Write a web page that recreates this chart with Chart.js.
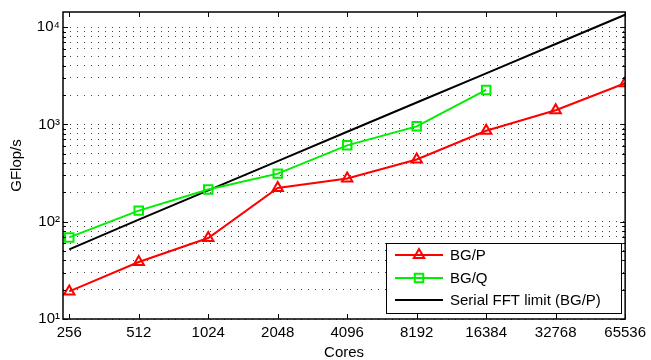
<!DOCTYPE html>
<html>
<head>
<meta charset="utf-8">
<script src="https://cdn.jsdelivr.net/npm/chart.js@4"></script>
<style>
  html, body { margin: 0; padding: 0; background: #fff; }
  #wrap { width: 651px; height: 360px; }
</style>
</head>
<body>
<div id="wrap"><canvas id="chart" width="651" height="360"></canvas></div>
<script>
// --- data ---
const cores = [256, 512, 1024, 2048, 4096, 8192, 16384, 32768, 65536];
const bgp = [19.2, 38.5, 68, 222, 278, 436, 860, 1400, 2650];
const bgq = [69, 130, 214, 312, 609, 955, 2260];
const serial = [52, 105, 210, 420, 840, 1680, 3350, 6700, 13400];
const yMajor = [10, 100, 1000, 10000];
const yLabels = ['10\u00B9', '10\u00B2', '10\u00B3', '10\u2074'];

const FONT = 'Liberation Sans, Arial, Helvetica, sans-serif';

function pts(vals) {
  return vals.map((v, i) => ({ x: cores[i], y: v }));
}

// all y ticks: 1..9 x each decade (for the dotted minor grid)
const yTicks = [];
for (let d = 10; d <= 10000; d *= 10) {
  for (let k = 1; k <= 9; k++) {
    if (d * k <= 14300) yTicks.push(d * k);
  }
}

// frame, inward tick marks and legend, drawn MATLAB style
const framePlugin = {
  id: 'frame',
  afterDraw(chart) {
    const { ctx, chartArea: a, scales: { x, y } } = chart;
    ctx.save();
    ctx.strokeStyle = '#000';
    ctx.lineWidth = 1;
    ctx.beginPath();
    cores.forEach(c => {
      const px = Math.round(x.getPixelForValue(c)) + 0.5;
      ctx.moveTo(px, a.bottom); ctx.lineTo(px, a.bottom - 5);
      ctx.moveTo(px, a.top); ctx.lineTo(px, a.top + 5);
    });
    yTicks.forEach(v => {
      const py = Math.round(y.getPixelForValue(v)) + 0.5;
      const len = yMajor.includes(v) ? 5 : 3;
      ctx.moveTo(a.left, py); ctx.lineTo(a.left + len, py);
      ctx.moveTo(a.right, py); ctx.lineTo(a.right - len, py);
    });
    ctx.stroke();
    ctx.lineWidth = 1.5;
    ctx.strokeRect(a.left, a.top, a.right - a.left, a.bottom - a.top);

    // legend
    const lx = 386, ly = 243, lw = 235, lh = 70;
    ctx.fillStyle = '#fff';
    ctx.fillRect(lx, ly, lw, lh);
    ctx.lineWidth = 1;
    ctx.strokeStyle = '#000';
    ctx.strokeRect(lx + 0.5, ly + 0.5, lw, lh);
    const rows = [255, 278, 300];
    chart.data.datasets.forEach((ds, i) => {
      const yy = rows[i];
      ctx.strokeStyle = ds.borderColor;
      ctx.lineWidth = 2;
      ctx.beginPath();
      ctx.moveTo(395, yy); ctx.lineTo(443, yy);
      ctx.stroke();
      if (ds.pointStyle && ds.pointRadius > 0) {
        ctx.fillStyle = 'rgba(0,0,0,0)';
        Chart.helpers.drawPoint(ctx, {
          pointStyle: ds.pointStyle, radius: ds.pointRadius, borderWidth: 2
        }, 419, yy);
      }
      ctx.fillStyle = '#000';
      ctx.font = '15px ' + FONT;
      ctx.textBaseline = 'middle';
      ctx.textAlign = 'left';
      ctx.fillText(ds.label, 450, yy + 1);
    });
    ctx.restore();
  }
};

new Chart(document.getElementById('chart'), {
  type: 'line',
  data: {
    datasets: [
      {
        label: 'BG/P', data: pts(bgp),
        borderColor: '#ff0000', backgroundColor: 'transparent',
        borderWidth: 2, pointStyle: 'triangle', pointRadius: 6,
        pointBorderWidth: 2, pointBackgroundColor: 'transparent'
      },
      {
        label: 'BG/Q', data: pts(bgq),
        borderColor: '#00ee00', backgroundColor: 'transparent',
        borderWidth: 2, pointStyle: 'rect', pointRadius: 6,
        pointBorderWidth: 2, pointBackgroundColor: 'transparent'
      },
      {
        label: 'Serial FFT limit (BG/P)', data: pts(serial),
        borderColor: '#000000', backgroundColor: 'transparent',
        borderWidth: 2, pointRadius: 0, pointStyle: false
      }
    ]
  },
  options: {
    responsive: false,
    animation: false,
    layout: { padding: { top: 8, right: 24, left: 0, bottom: 0 } },
    plugins: { legend: { display: false }, tooltip: { enabled: false } },
    scales: {
      x: {
        type: 'logarithmic',
        min: 240.5, max: 65536,
        afterBuildTicks: s => { s.ticks = cores.map(v => ({ value: v })); },
        afterFit: s => { s.height = 41; },
        grid: { display: false, drawTicks: false },
        border: { display: false },
        ticks: {
          autoSkip: false, maxRotation: 0, padding: 5,
          color: '#000', font: { family: FONT, size: 15 },
          callback: v => String(v)
        },
        title: {
          display: true, text: 'Cores', color: '#000',
          font: { family: FONT, size: 15, lineHeight: 1 },
          padding: { top: 0, bottom: 0 }
        }
      },
      y: {
        type: 'logarithmic',
        min: 10, max: 14300,
        afterBuildTicks: s => { s.ticks = yTicks.map(v => ({ value: v })); },
        afterFit: s => { s.width = 63; },
        grid: {
          drawTicks: false, color: '#444', lineWidth: 1,
          drawOnChartArea: true
        },
        border: { display: false, dash: [1, 6] },
        ticks: {
          autoSkip: false, padding: 3,
          color: '#000', font: { family: FONT, size: 15 },
          callback: v => {
            const i = yMajor.indexOf(v);
            return i >= 0 ? yLabels[i] : '';
          }
        },
        title: {
          display: true, text: 'GFlop/s', color: '#000',
          font: { family: FONT, size: 15, lineHeight: 1.2 },
          padding: { top: 8, bottom: 0 }
        }
      }
    }
  },
  plugins: [framePlugin]
});
</script>
</body>
</html>
